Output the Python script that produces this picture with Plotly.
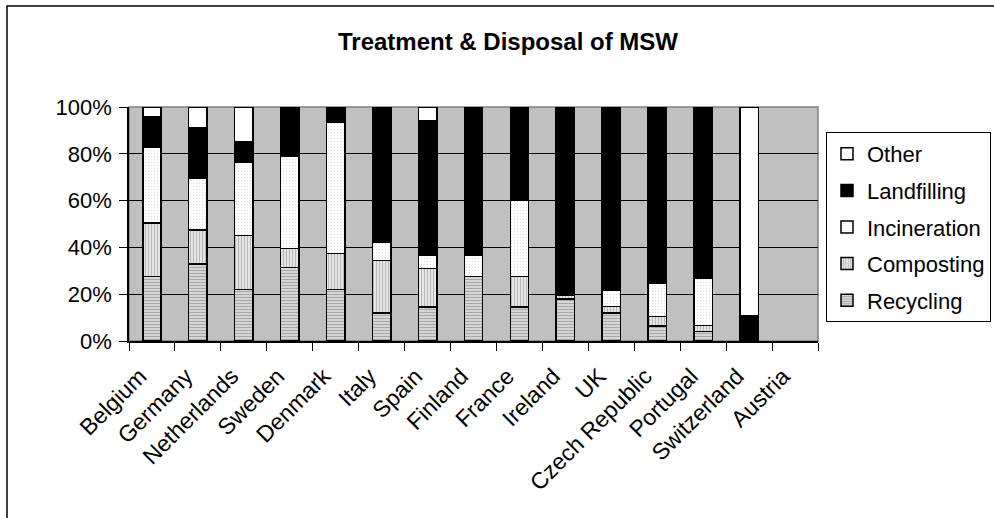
import plotly.graph_objects as go

countries = ["Belgium", "Germany", "Netherlands", "Sweden", "Denmark", "Italy", "Spain",
             "Finland", "France", "Ireland", "UK", "Czech Republic", "Portugal",
             "Switzerland", "Austria"]

recycling = [27.5, 33, 22, 31.5, 22, 12, 14.5, 27.5, 14.5, 18, 12, 6.5, 4, None, None]
composting = [23, 14.5, 23, 8, 15.5, 22.5, 16.5, None, 13, 1.7, 2.7, 4, 2.7, None, None]
incineration = [32.5, 22, 31.5, 39.5, 56, 7.5, 5.5, 9, 32.5, None, 7, 14, 20, None, None]
landfilling = [13, 21.5, 8.5, 21, 6.5, 58, 57.5, 63.5, 40, 80.3, 78.3, 75.5, 73.3, 10.8, None]
other = [4, 9, 15, None, None, None, 6, None, None, None, None, None, None, 89.2, None]

y_ticks = [0, 20, 40, 60, 80, 100]
y_tick_labels = ["0%", "20%", "40%", "60%", "80%", "100%"]

FONT = "Liberation Sans, Arial, sans-serif"

series = [
    ("Recycling", recycling, dict(shape="-", fgcolor="#6a6a6a", bgcolor="#e4e4e4", size=3, solidity=0.5)),
    ("Composting", composting, dict(shape="|", fgcolor="#7c7c7c", bgcolor="#f2f2f2", size=3, solidity=0.5)),
    ("Incineration", incineration, dict(shape=".", fgcolor="#a8a8a8", bgcolor="white", size=3, solidity=0.12)),
    ("Landfilling", landfilling, None),
    ("Other", other, None),
]

fig = go.Figure()
n = len(series)
for i, (name, vals, pat) in enumerate(series):
    marker = dict(line=dict(color="black", width=1.5))
    if pat is not None:
        marker["pattern"] = pat
        marker["color"] = pat["bgcolor"]
    elif name == "Landfilling":
        marker["color"] = "black"
    else:
        marker["color"] = "white"
    fig.add_trace(go.Bar(x=countries, y=vals, name=name, marker=marker,
                         legendgroup=name, legendrank=n - i))

W, H = 994, 518
ml, mr, mt, mb = 129, 176, 107, 177
pw, ph = W - ml - mr, H - mt - mb

def px_x(p):
    return (p - ml) / pw

def px_y(p):
    return (H - mb - p) / ph

fig.update_layout(
    width=W, height=H,
    margin=dict(l=ml, r=mr, t=mt, b=mb, autoexpand=False),
    barmode="stack",
    bargap=0.6,
    paper_bgcolor="white",
    plot_bgcolor="#c0c0c0",
    font=dict(family=FONT, size=22, color="black"),
    title=dict(text="<b>Treatment & Disposal of MSW</b>", x=508 / W, xref="container",
               xanchor="center", y=1 - 42 / H, yref="container", yanchor="middle",
               font=dict(family=FONT, size=24, color="black")),
    legend=dict(x=px_x(826), y=px_y(132), xanchor="left", yanchor="top",
                traceorder="grouped", bordercolor="black", borderwidth=1,
                bgcolor="white", tracegroupgap=5,
                font=dict(family=FONT, size=22, color="black")),
    showlegend=True,
)

fig.update_xaxes(
    type="category", tickangle=-45, ticks="outside", ticklen=8, tickcolor="black",
    tickson="boundaries", showline=True, linecolor="black", linewidth=1.5,
    showgrid=False, tickfont=dict(family=FONT, size=23, color="black"),
    ticklabelstandoff=11, ticklabelshift=-12,
)
fig.update_yaxes(
    range=[0, 100], tickvals=y_ticks, ticktext=y_tick_labels, ticks="outside", ticklen=8,
    tickcolor="black", showline=True, linecolor="black", linewidth=1.5,
    showgrid=True, gridcolor="black", gridwidth=1, zeroline=False,
    tickfont=dict(family=FONT, size=22, color="black"), ticklabelstandoff=3,
)

# plot area border (grey), above gridlines but below bars
fig.add_shape(type="rect", xref="paper", yref="paper", x0=0, x1=1, y0=0, y1=1,
              line=dict(color="#808080", width=1.5), layer="between")
# chart area border
fig.add_shape(type="rect", xref="paper", yref="paper",
              x0=px_x(7), x1=px_x(W + 20), y0=px_y(H + 20), y1=px_y(6),
              line=dict(color="black", width=1.5), layer="above")

fig.write_html("out.html")
